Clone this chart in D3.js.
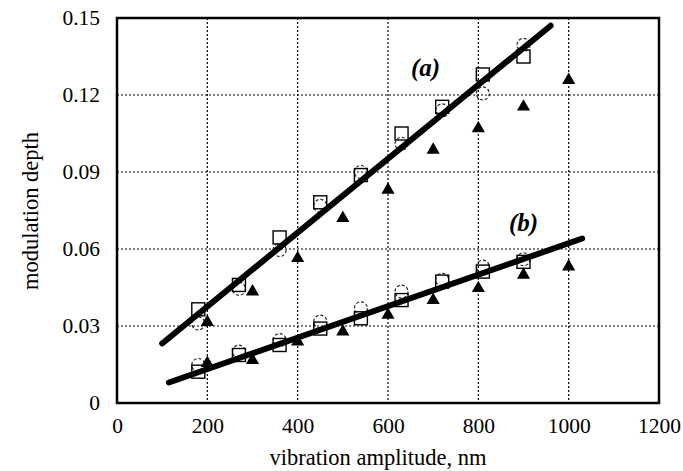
<!DOCTYPE html>
<html>
<head>
<meta charset="utf-8" />
<title>modulation depth</title>
<script src="https://cdn.jsdelivr.net/npm/d3@7/dist/d3.min.js"></script>
<style>
  html, body { margin: 0; padding: 0; background: #fff; }
  text { font-family: "Liberation Serif", "DejaVu Serif", serif; fill: #000; }
</style>
</head>
<body>
<script>
// tick labels
var xTicks = [0, 200, 400, 600, 800, 1000, 1200];
var yTicks = [0, 0.03, 0.06, 0.09, 0.12, 0.15];

// squares / circles share x, triangles sit 20 nm later
var xOpen = [180, 270, 360, 450, 540, 630, 720, 810, 900];
var xTri = [200, 300, 400, 500, 600, 700, 800, 900, 1000];

// curve (a)
var sqA = [0.0365, 0.046, 0.0645, 0.0782, 0.0888, 0.105, 0.1154, 0.128, 0.135];
var ciA = [0.031, 0.0445, 0.0596, 0.0768, 0.09, 0.101, 0.114, 0.1206, 0.1395];
var trA = [0.0315, 0.0434, 0.0564, 0.072, 0.083, 0.0986, 0.107, 0.1154, 0.1258];
var fitA = [[100, 0.0232], [960, 0.147]];

// curve (b)
var sqB = [0.0122, 0.0187, 0.0226, 0.029, 0.033, 0.0401, 0.0473, 0.0512, 0.055];
var ciB = [0.0148, 0.020, 0.0245, 0.0317, 0.0369, 0.0434, 0.048, 0.0531, 0.056];
var trB = [0.0155, 0.0167, 0.0239, 0.0278, 0.0343, 0.0401, 0.0447, 0.0499, 0.0531];
var fitB = [[115, 0.008], [1030, 0.0641]];

var width = 683, height = 471;
var pL = 117, pR = 659, pT = 18, pB = 403;   // plot box

var svg = d3.select('body').append('svg').attr('width', width).attr('height', height);

var x = d3.scaleLinear().domain([0, 1200]).range([pL, pR]);
var y = d3.scaleLinear().domain([0, 0.15]).range([pB, pT]);

// dotted grid
var grid = svg.append('g').attr('stroke', '#000').attr('stroke-width', 1.2).attr('stroke-dasharray', '2,2');
grid.selectAll('.vg').data(xTicks.slice(1, -1)).enter().append('line')
    .attr('x1', d => x(d)).attr('x2', d => x(d)).attr('y1', pT).attr('y2', pB);
grid.selectAll('.hg').data(yTicks.slice(1, -1)).enter().append('line')
    .attr('x1', pL).attr('x2', pR).attr('y1', d => y(d)).attr('y2', d => y(d));

// axes (labels only, ticks hidden)
var fmtY = d => d === 0 ? '0' : d3.format('.2f')(d);
var xAxis = svg.append('g').attr('transform', 'translate(0,' + pB + ')')
    .call(d3.axisBottom(x).tickValues(xTicks).tickSize(0).tickFormat(d3.format('d')));
var yAxis = svg.append('g').attr('transform', 'translate(' + pL + ',0)')
    .call(d3.axisLeft(y).tickValues(yTicks).tickSize(0).tickPadding(17).tickFormat(fmtY));
[xAxis, yAxis].forEach(function(a) {
    a.select('.domain').remove();
    a.selectAll('text').style('font-family', '"Liberation Serif", serif').style('font-size', '21.5px').attr('fill', '#000');
});
xAxis.selectAll('text').attr('dy', 0).attr('y', 30);

// frame
svg.append('rect').attr('x', pL).attr('y', pT).attr('width', pR - pL).attr('height', pB - pT)
    .attr('fill', 'none').attr('stroke', '#000').attr('stroke-width', 2.5);

var pts = function(xs, ys) { return xs.map((v, i) => [v, ys[i]]); };
var marks = svg.append('g');

// circles (behind), squares, triangles
[ciA, ciB].forEach(function(s) {
    marks.append('g').selectAll('circle').data(pts(xOpen, s)).enter().append('circle')
        .attr('cx', d => x(d[0])).attr('cy', d => y(d[1])).attr('r', 6.5)
        .attr('fill', 'none').attr('stroke', '#222').attr('stroke-width', 1.2).attr('stroke-dasharray', '3,2');
});
[sqA, sqB].forEach(function(s) {
    marks.append('g').selectAll('rect').data(pts(xOpen, s)).enter().append('rect')
        .attr('x', d => x(d[0]) - 6.5).attr('y', d => y(d[1]) - 6.5).attr('width', 13).attr('height', 13)
        .attr('fill', 'none').attr('stroke', '#000').attr('stroke-width', 1.4);
});

// fitted lines
var line = d3.line().x(d => x(d[0])).y(d => y(d[1]));
[fitA, fitB].forEach(function(f) {
    svg.append('path').attr('d', line(f)).attr('fill', 'none').attr('stroke', '#000')
        .attr('stroke-width', 6).attr('stroke-linecap', 'round');
});

var tri = d3.symbol().type(d3.symbolTriangle).size(75);
[trA, trB].forEach(function(s) {
    svg.append('g').selectAll('path').data(pts(xTri, s)).enter().append('path')
        .attr('d', tri).attr('transform', d => 'translate(' + x(d[0]) + ',' + y(d[1]) + ')')
        .attr('fill', '#000');
});

// curve labels
svg.append('text').attr('x', 411).attr('y', 76).style('font-size', '25px')
    .style('font-weight', 'bold').style('font-style', 'italic').text('(a)');
svg.append('text').attr('x', 509).attr('y', 231).style('font-size', '25px')
    .style('font-weight', 'bold').style('font-style', 'italic').text('(b)');

// axis titles
svg.append('text').attr('x', 378).attr('y', 465).attr('text-anchor', 'middle')
    .style('font-size', '22.5px').text('vibration amplitude, nm');
svg.append('text').attr('transform', 'translate(38,211) rotate(-90)').attr('text-anchor', 'middle')
    .style('font-size', '22.5px').text('modulation depth');
</script>
</body>
</html>
